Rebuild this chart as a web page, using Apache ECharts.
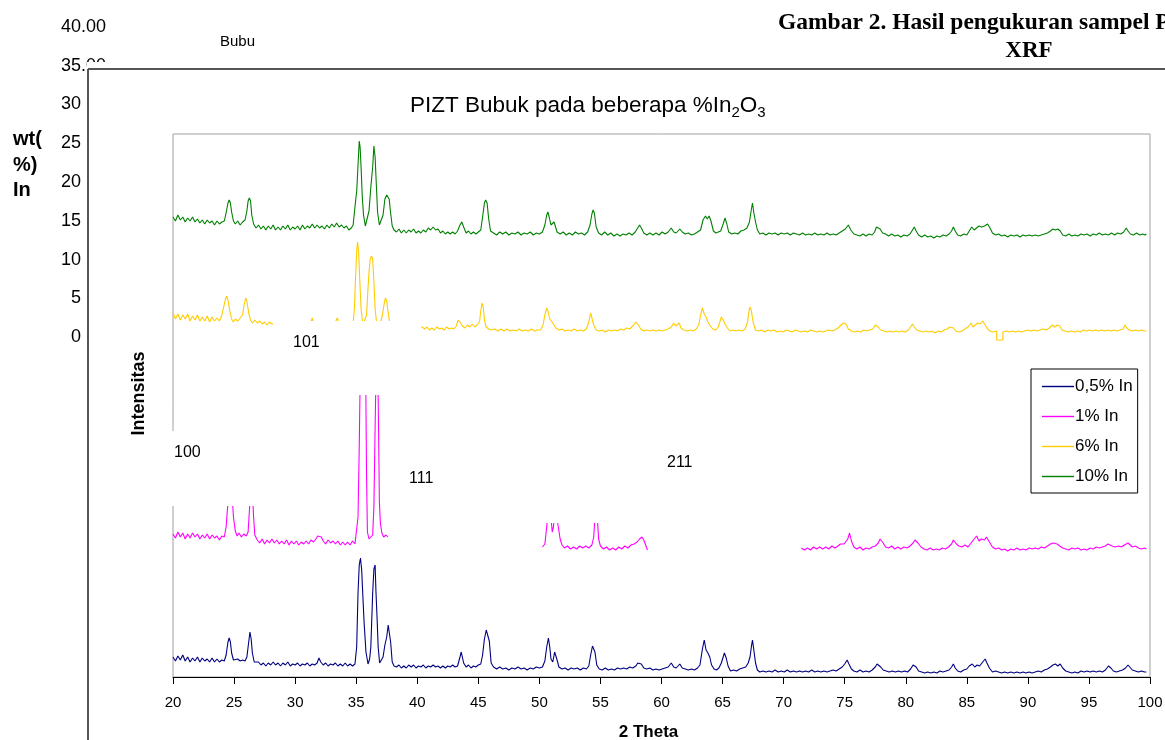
<!DOCTYPE html>
<html>
<head>
<meta charset="utf-8">
<script src="https://cdn.jsdelivr.net/npm/echarts@6/dist/echarts.min.js"></script>
<style>html,body{margin:0;padding:0;background:#fff}#c{width:1165px;height:740px}</style>
</head>
<body>
<div id="c"></div>
<script>
// ---- axis settings (2 Theta) ----
const X_MIN = 20, X_MAX = 100, X_STEP = 5;
const Y_MIN = 0, Y_MAX = 543;
const seriesNames = ['0,5% In', '1% In', '6% In', '10% In'];
const seriesColors = ['#000080', '#ff00ff', '#ffcc00', '#008000'];

// ---- series values, flat pairs [2theta, intensity] ----
const N05 = [20.0,20, 20.2,16, 20.4,21, 20.6,17, 20.8,22, 21.0,16, 21.2,20, 21.4,15, 21.6,19, 21.8,16, 22.0,20, 22.2,15, 22.4,19, 22.6,16, 22.8,18, 23.0,15, 23.2,19, 23.4,15, 23.6,18, 23.8,15, 24.0,17, 24.2,16, 24.35,22, 24.5,35, 24.6,39, 24.7,35, 24.8,24, 24.95,17, 25.1,15, 25.3,18, 25.5,16, 25.7,17, 25.9,16, 26.05,20, 26.15,30, 26.3,45, 26.4,38, 26.5,24, 26.65,15, 26.8,13, 27.0,15, 27.2,12, 27.4,14, 27.6,11, 27.8,14, 28.0,12, 28.2,15, 28.4,12, 28.6,14, 28.8,11, 29.0,14, 29.2,12, 29.4,15, 29.6,11, 29.8,13, 30.0,12, 30.2,14, 30.4,11, 30.6,13, 30.8,12, 31.0,14, 31.2,11, 31.4,13, 31.6,12, 31.8,14, 31.95,19, 32.1,15, 32.3,12, 32.5,14, 32.7,11, 32.9,13, 33.1,12, 33.3,14, 33.5,11, 33.7,13, 33.9,11, 34.1,14, 34.3,11, 34.5,13, 34.7,11, 34.9,13, 35.04,30, 35.15,84, 35.25,112, 35.35,119, 35.45,107, 35.55,80, 35.65,54, 35.8,25, 35.97,13, 36.1,18, 36.2,30, 36.35,84, 36.45,108, 36.55,112, 36.62,85, 36.7,62, 36.8,30, 36.92,14, 37.05,13, 37.2,20, 37.35,32, 37.5,40, 37.62,52, 37.72,50, 37.82,35, 37.95,15, 38.1,11, 38.3,10, 38.5,12, 38.7,9, 38.9,11, 39.1,9, 39.3,12, 39.5,10, 39.7,12, 39.9,9, 40.1,11, 40.3,10, 40.5,12, 40.7,9, 40.9,11, 41.1,10, 41.3,12, 41.5,10, 41.7,11, 41.9,9, 42.1,11, 42.3,9, 42.5,11, 42.7,10, 42.9,12, 43.1,10, 43.3,11, 43.5,20, 43.6,25, 43.7,23, 43.8,14, 44.0,10, 44.2,12, 44.4,9, 44.6,11, 44.8,10, 45.0,12, 45.2,13, 45.35,22, 45.5,38, 45.65,47, 45.77,49, 45.9,36, 46.05,14, 46.25,10, 46.5,8, 46.75,10, 47.0,8, 47.25,9, 47.5,7, 47.75,9, 48.0,8, 48.25,10, 48.5,8, 48.75,9, 49.0,7, 49.25,9, 49.5,8, 49.75,10, 50.0,9, 50.25,10, 50.45,16, 50.6,30, 50.74,39, 50.85,30, 50.95,18, 51.1,15, 51.25,25, 51.33,27, 51.45,17, 51.6,10, 51.85,8, 52.1,9, 52.35,7, 52.6,9, 52.85,8, 53.1,9, 53.35,7, 53.6,9, 53.85,8, 54.05,11, 54.2,22, 54.35,31, 54.45,33, 54.55,25, 54.7,12, 54.9,8, 55.15,7, 55.4,9, 55.65,7, 55.9,8, 56.15,7, 56.4,9, 56.65,8, 56.9,9, 57.15,8, 57.4,10, 57.65,9, 57.9,11, 58.05,14, 58.2,16, 58.35,13, 58.55,9, 58.8,8, 59.05,9, 59.3,7, 59.55,8, 59.8,7, 60.05,8, 60.3,9, 60.55,10, 60.8,14, 61.0,10, 61.2,9, 61.5,13, 61.7,9, 61.95,8, 62.2,7, 62.45,8, 62.7,7, 62.95,9, 63.15,12, 63.35,28, 63.5,37, 63.65,27, 63.8,24, 63.95,20, 64.1,12, 64.3,8, 64.5,7, 64.7,9, 64.9,14, 65.05,20, 65.15,24, 65.3,19, 65.45,11, 65.65,6, 65.9,7, 66.15,6, 66.4,8, 66.65,9, 66.9,10, 67.1,14, 67.25,20, 67.38,32, 67.45,37, 67.55,28, 67.7,14, 67.85,7, 68.05,5, 68.3,6, 68.55,5, 68.8,6, 69.05,5, 69.3,7, 69.55,5, 69.8,6, 70.05,5, 70.3,7, 70.55,5, 70.8,6, 71.05,5, 71.3,6, 71.55,5, 71.8,6, 72.05,5, 72.3,7, 72.55,5, 72.8,6, 73.05,5, 73.3,6, 73.55,5, 73.8,6, 74.05,7, 74.3,6, 74.55,8, 74.8,10, 75.0,13, 75.2,17, 75.35,13, 75.55,8, 75.75,6, 76.0,5, 76.25,7, 76.5,5, 76.75,6, 77.0,5, 77.25,7, 77.5,10, 77.65,13, 77.75,14, 77.95,10, 78.15,7, 78.4,6, 78.65,5, 78.9,6, 79.15,5, 79.4,6, 79.65,5, 79.9,6, 80.15,5, 80.4,8, 80.6,12, 80.7,13, 80.85,10, 81.05,6, 81.3,5, 81.55,4, 81.8,5, 82.05,4, 82.3,5, 82.55,4, 82.8,6, 83.05,5, 83.3,6, 83.55,7, 83.75,10, 83.9,13, 84.05,9, 84.25,6, 84.5,5, 84.75,7, 85.0,8, 85.2,11, 85.45,13, 85.65,10, 85.85,12, 86.05,11, 86.3,15, 86.5,18, 86.65,14, 86.85,9, 87.1,5, 87.35,6, 87.6,5, 87.85,4, 88.1,5, 88.35,4, 88.6,5, 88.85,4, 89.1,5, 89.35,4, 89.6,5, 89.85,4, 90.1,5, 90.35,4, 90.6,5, 90.85,6, 91.1,5, 91.35,7, 91.6,8, 91.85,10, 92.05,12, 92.25,13, 92.45,11, 92.65,13, 92.85,9, 93.1,6, 93.35,5, 93.6,4, 93.85,5, 94.1,4, 94.35,6, 94.6,5, 94.85,6, 95.1,5, 95.35,6, 95.6,5, 95.85,6, 96.1,5, 96.35,7, 96.6,11, 96.8,9, 97.0,6, 97.25,5, 97.5,6, 97.75,7, 98.0,9, 98.2,12, 98.35,10, 98.55,7, 98.8,6, 99.05,5, 99.3,6, 99.55,5, 99.7,5];

const M1 = [20.0,143, 20.2,139, 20.4,145, 20.6,140, 20.8,144, 21.0,138, 21.2,143, 21.4,139, 21.6,144, 21.8,140, 22.0,143, 22.2,138, 22.4,142, 22.6,139, 22.8,143, 23.0,138, 23.2,142, 23.4,139, 23.6,141, 23.8,137, 24.0,141, 24.2,140, 24.35,150, 24.5,175, 24.6,190, 24.75,192, 24.85,180, 24.95,160, 25.1,146, 25.25,141, 25.4,144, 25.6,140, 25.8,143, 26.0,141, 26.15,145, 26.3,175, 26.4,195, 26.5,185, 26.6,160, 26.7,142, 26.9,137, 27.1,134, 27.3,138, 27.5,133, 27.7,137, 27.9,134, 28.1,138, 28.3,134, 28.5,137, 28.7,133, 28.9,136, 29.1,133, 29.3,137, 29.5,132, 29.7,136, 29.9,133, 30.1,136, 30.3,132, 30.5,135, 30.7,133, 30.9,136, 31.1,133, 31.3,137, 31.5,135, 31.7,138, 31.85,141, 32.0,143, 32.15,140, 32.3,136, 32.5,133, 32.7,137, 32.9,134, 33.1,136, 33.3,133, 33.5,136, 33.7,132, 33.9,135, 34.1,132, 34.3,135, 34.5,132, 34.7,136, 34.9,133, 35.05,135, 35.15,160, 35.25,230, 35.35,320, 35.5,335, 35.65,330, 35.78,300, 35.85,200, 35.92,145, 36.05,138, 36.2,140, 36.35,142, 36.45,170, 36.55,250, 36.65,322, 36.75,325, 36.82,260, 36.9,175, 36.98,154, 37.1,144, 37.25,140, 37.45,142, 37.6,140, 44.0,null, 50.25,130, 50.45,133, 50.6,150, 50.75,172, 50.85,175, 50.95,160, 51.05,145, 51.15,150, 51.3,170, 51.45,168, 51.55,150, 51.7,138, 51.85,132, 52.05,129, 52.3,131, 52.55,128, 52.8,130, 53.05,128, 53.3,131, 53.55,129, 53.8,131, 54.05,129, 54.3,132, 54.45,140, 54.55,160, 54.65,168, 54.75,158, 54.85,138, 55.0,131, 55.25,128, 55.5,130, 55.75,127, 56.0,129, 56.25,127, 56.5,130, 56.75,128, 57.0,131, 57.25,129, 57.5,132, 57.75,133, 58.0,135, 58.2,138, 58.4,140, 58.55,137, 58.7,132, 58.85,127, 65.0,null, 71.45,129, 71.7,127, 71.95,129, 72.2,127, 72.45,130, 72.7,128, 72.95,130, 73.2,128, 73.45,130, 73.7,128, 73.95,131, 74.2,129, 74.45,131, 74.65,133, 74.8,135, 74.95,133, 75.1,134, 75.25,138, 75.4,144, 75.55,136, 75.75,130, 76.0,128, 76.25,130, 76.5,127, 76.75,129, 77.0,128, 77.25,130, 77.5,131, 77.75,134, 77.9,138, 78.0,140, 78.15,134, 78.35,130, 78.6,129, 78.85,131, 79.1,128, 79.35,130, 79.6,128, 79.85,130, 80.1,129, 80.35,131, 80.6,134, 80.75,137, 80.85,139, 81.0,134, 81.25,130, 81.5,128, 81.75,127, 82.0,129, 82.25,127, 82.5,128, 82.75,127, 83.0,129, 83.25,128, 83.5,130, 83.75,133, 83.9,137, 84.0,139, 84.15,133, 84.35,131, 84.6,130, 84.85,132, 85.1,130, 85.35,134, 85.6,138, 85.8,141, 86.0,136, 86.2,138, 86.45,137, 86.6,140, 86.75,140, 86.9,134, 87.1,130, 87.35,128, 87.6,129, 87.85,127, 88.1,128, 88.35,126, 88.6,128, 88.85,127, 89.1,129, 89.35,127, 89.6,128, 89.85,127, 90.1,129, 90.35,128, 90.6,129, 90.85,128, 91.1,130, 91.35,129, 91.6,131, 91.85,133, 92.05,134, 92.2,135, 92.4,133, 92.6,131, 92.85,129, 93.1,128, 93.35,127, 93.6,129, 93.85,128, 94.1,129, 94.35,127, 94.6,128, 94.85,127, 95.1,129, 95.35,128, 95.6,130, 95.85,129, 96.1,130, 96.35,131, 96.55,133, 96.7,134, 96.9,131, 97.15,130, 97.4,131, 97.65,130, 97.9,132, 98.05,133, 98.2,134, 98.35,132, 98.55,130, 98.8,131, 99.05,129, 99.3,128, 99.55,129, 99.7,128];

const Y6 = [20.0,364, 20.2,358, 20.4,363, 20.6,357, 20.8,362, 21.0,358, 21.2,363, 21.4,356, 21.6,361, 21.8,357, 22.0,362, 22.2,356, 22.4,360, 22.6,356, 22.8,361, 23.0,355, 23.2,360, 23.4,356, 23.6,359, 23.8,356, 24.0,362, 24.15,370, 24.3,378, 24.4,381, 24.5,377, 24.65,366, 24.8,358, 24.95,355, 25.1,358, 25.3,356, 25.5,359, 25.7,362, 25.82,372, 25.95,379, 26.05,376, 26.2,364, 26.35,357, 26.5,354, 26.7,357, 26.9,354, 27.1,356, 27.3,353, 27.5,355, 27.7,352, 27.9,355, 28.1,353, 28.3,354, 28.5,351, 28.7,354, 28.9,351, 29.1,353, 29.3,350, 29.5,353, 29.7,351, 29.9,354, 30.1,351, 30.3,353, 30.5,350, 30.7,354, 30.9,351, 31.1,353, 31.3,355, 31.4,359, 31.5,354, 31.7,351, 31.9,353, 32.1,350, 32.3,353, 32.5,351, 32.7,354, 32.9,351, 33.1,353, 33.3,355, 33.45,359, 33.6,354, 33.8,351, 34.0,353, 34.2,350, 34.4,352, 34.6,351, 34.75,354, 34.85,368, 34.95,400, 35.05,428, 35.12,435, 35.2,425, 35.3,395, 35.4,368, 35.55,352, 35.7,351, 35.85,362, 35.95,385, 36.05,405, 36.15,418, 36.25,421, 36.35,418, 36.45,395, 36.55,368, 36.7,351, 36.9,350, 37.05,352, 37.15,362, 37.3,374, 37.4,379, 37.5,376, 37.6,366, 37.75,354, 37.95,350, 38.2,349, 38.5,351, 38.8,348, 39.1,350, 39.4,348, 39.7,351, 40.0,348, 40.2,350, 40.4,350, 40.6,348, 40.8,350, 41.0,347, 41.2,349, 41.4,347, 41.6,350, 41.8,348, 42.0,349, 42.2,347, 42.4,350, 42.6,348, 42.8,349, 43.0,348, 43.2,351, 43.35,357, 43.45,359, 43.55,354, 43.7,351, 43.9,349, 44.1,352, 44.3,350, 44.5,353, 44.7,350, 44.9,352, 45.1,355, 45.2,366, 45.3,374, 45.4,370, 45.5,357, 45.65,350, 45.85,348, 46.1,347, 46.35,348, 46.6,346, 46.85,348, 47.1,346, 47.35,348, 47.6,346, 47.85,347, 48.1,346, 48.35,348, 48.6,346, 48.85,347, 49.1,346, 49.35,348, 49.6,346, 49.85,347, 50.1,347, 50.3,352, 50.45,362, 50.6,369, 50.7,366, 50.85,358, 51.0,357, 51.15,353, 51.35,349, 51.6,347, 51.85,348, 52.1,346, 52.35,347, 52.6,346, 52.85,348, 53.1,346, 53.35,347, 53.6,346, 53.85,348, 54.05,355, 54.2,364, 54.3,362, 54.45,352, 54.65,347, 54.9,346, 55.15,347, 55.4,345, 55.65,347, 55.9,346, 56.15,347, 56.4,346, 56.65,348, 56.9,347, 57.15,349, 57.4,348, 57.65,351, 57.9,355, 58.1,352, 58.3,348, 58.55,346, 58.8,347, 59.05,346, 59.3,347, 59.55,346, 59.8,347, 60.05,346, 60.3,347, 60.55,348, 60.8,350, 61.0,354, 61.15,351, 61.3,353, 61.45,354, 61.6,349, 61.85,347, 62.1,346, 62.35,347, 62.6,346, 62.85,348, 63.05,352, 63.2,362, 63.35,369, 63.5,363, 63.65,360, 63.8,355, 64.0,351, 64.2,348, 64.45,347, 64.65,350, 64.8,356, 64.9,360, 65.05,357, 65.2,353, 65.4,349, 65.6,346, 65.85,347, 66.1,346, 66.35,347, 66.6,346, 66.85,348, 67.05,355, 67.15,365, 67.25,370, 67.35,367, 67.5,355, 67.7,347, 67.95,346, 68.2,347, 68.45,345, 68.7,347, 68.95,346, 69.2,347, 69.45,345, 69.7,346, 69.95,345, 70.2,347, 70.45,346, 70.7,345, 70.95,347, 71.2,346, 71.45,345, 71.7,346, 71.95,345, 72.2,347, 72.45,346, 72.7,345, 72.95,346, 73.2,345, 73.45,346, 73.7,347, 73.95,346, 74.2,347, 74.45,349, 74.7,352, 74.9,354, 75.1,353, 75.3,348, 75.55,346, 75.8,345, 76.05,346, 76.3,345, 76.55,347, 76.8,346, 77.05,347, 77.3,348, 77.5,352, 77.6,354, 77.75,350, 77.95,347, 78.2,346, 78.45,345, 78.7,346, 78.95,345, 79.2,346, 79.45,345, 79.7,346, 79.95,345, 80.2,347, 80.4,350, 80.55,353, 80.7,350, 80.9,347, 81.15,346, 81.4,345, 81.65,346, 81.9,345, 82.15,346, 82.4,344, 82.65,346, 82.9,345, 83.15,347, 83.4,348, 83.6,350, 83.75,352, 83.9,349, 84.1,346, 84.35,345, 84.6,346, 84.85,348, 85.1,350, 85.35,354, 85.5,350, 85.7,352, 85.9,354, 86.1,353, 86.3,356, 86.5,352, 86.7,348, 86.9,346, 87.1,345, 87.44,346, 87.45,337, 87.7,337, 87.95,337, 87.96,345, 88.25,346, 88.5,345, 88.75,346, 89.0,345, 89.25,346, 89.5,345, 89.75,346, 90.0,347, 90.25,346, 90.5,347, 90.75,346, 91.0,347, 91.25,348, 91.5,347, 91.75,349, 92.0,352, 92.2,350, 92.4,352, 92.6,351, 92.8,347, 93.05,346, 93.3,345, 93.55,346, 93.8,345, 94.05,346, 94.3,345, 94.55,347, 94.8,346, 95.05,347, 95.3,346, 95.55,347, 95.8,346, 96.05,347, 96.3,346, 96.55,347, 96.8,346, 97.05,347, 97.3,346, 97.55,347, 97.8,348, 97.95,352, 98.1,349, 98.3,347, 98.55,346, 98.8,347, 99.05,346, 99.3,347, 99.55,346, 99.7,346];

const G10 = [20.0,460, 20.2,456, 20.4,462, 20.6,457, 20.8,460, 21.0,455, 21.2,459, 21.4,456, 21.6,460, 21.8,455, 22.0,458, 22.2,454, 22.4,457, 22.6,453, 22.8,457, 23.0,454, 23.2,456, 23.4,452, 23.6,456, 23.8,453, 24.0,455, 24.2,456, 24.35,464, 24.5,474, 24.6,477, 24.7,474, 24.8,465, 24.95,456, 25.1,453, 25.3,456, 25.5,452, 25.7,455, 25.9,457, 26.05,466, 26.15,476, 26.25,479, 26.35,476, 26.45,462, 26.6,453, 26.8,449, 27.0,452, 27.2,448, 27.4,451, 27.6,447, 27.8,451, 28.0,448, 28.2,452, 28.4,447, 28.6,450, 28.8,447, 29.0,451, 29.2,448, 29.4,452, 29.6,447, 29.8,450, 30.0,448, 30.2,451, 30.4,447, 30.6,452, 30.8,448, 31.0,451, 31.2,449, 31.4,453, 31.6,449, 31.8,452, 32.0,449, 32.2,451, 32.4,448, 32.6,452, 32.8,449, 33.0,453, 33.2,450, 33.4,454, 33.6,450, 33.8,452, 34.0,449, 34.2,451, 34.4,447, 34.6,449, 34.75,452, 34.9,470, 35.05,487, 35.15,512, 35.25,536, 35.32,530, 35.4,510, 35.5,480, 35.6,462, 35.75,451, 35.9,453, 36.05,466, 36.2,490, 36.35,510, 36.45,531, 36.55,520, 36.65,492, 36.75,465, 36.9,452, 37.05,451, 37.2,462, 37.35,478, 37.5,482, 37.6,484, 37.7,478, 37.8,466, 37.95,451, 38.1,447, 38.3,445, 38.5,448, 38.7,444, 38.9,447, 39.1,444, 39.3,447, 39.5,445, 39.7,448, 39.9,444, 40.1,446, 40.3,444, 40.5,447, 40.7,445, 40.9,449, 41.1,447, 41.3,450, 41.5,447, 41.7,448, 41.9,444, 42.1,446, 42.3,443, 42.5,445, 42.7,443, 42.9,445, 43.1,443, 43.3,446, 43.5,452, 43.65,455, 43.8,450, 44.0,444, 44.2,446, 44.4,443, 44.6,445, 44.8,443, 45.0,445, 45.2,447, 45.35,460, 45.5,474, 45.6,477, 45.72,474, 45.85,458, 46.0,446, 46.25,444, 46.5,442, 46.75,445, 47.0,443, 47.25,445, 47.5,442, 47.75,444, 48.0,443, 48.25,445, 48.5,442, 48.75,444, 49.0,443, 49.25,445, 49.5,442, 49.75,444, 50.0,443, 50.25,445, 50.45,452, 50.6,462, 50.7,465, 50.8,460, 50.95,452, 51.1,453, 51.2,455, 51.3,451, 51.45,445, 51.7,443, 51.95,445, 52.2,442, 52.45,444, 52.7,442, 52.95,445, 53.2,443, 53.45,444, 53.7,442, 53.95,445, 54.15,452, 54.3,463, 54.4,467, 54.5,464, 54.65,450, 54.85,444, 55.1,442, 55.35,445, 55.6,442, 55.85,444, 56.1,441, 56.35,443, 56.6,441, 56.85,443, 57.1,442, 57.35,444, 57.6,442, 57.85,445, 58.05,449, 58.2,452, 58.35,449, 58.55,444, 58.8,442, 59.05,444, 59.3,442, 59.55,444, 59.8,442, 60.05,445, 60.3,443, 60.55,445, 60.8,449, 61.0,445, 61.2,444, 61.5,448, 61.7,445, 61.95,443, 62.2,444, 62.45,442, 62.7,443, 62.95,445, 63.2,447, 63.4,457, 63.6,461, 63.75,458, 63.9,461, 64.05,456, 64.25,446, 64.45,444, 64.65,445, 64.85,446, 65.05,453, 65.2,459, 65.35,453, 65.5,445, 65.75,443, 66.0,444, 66.25,443, 66.5,446, 66.75,447, 67.0,449, 67.2,455, 67.35,467, 67.45,474, 67.55,465, 67.7,455, 67.85,447, 68.05,443, 68.3,444, 68.55,442, 68.8,444, 69.05,443, 69.3,444, 69.55,442, 69.8,444, 70.05,443, 70.3,444, 70.55,442, 70.8,444, 71.05,443, 71.3,442, 71.55,444, 71.8,442, 72.05,443, 72.3,442, 72.55,444, 72.8,442, 73.05,443, 73.3,442, 73.55,444, 73.8,442, 74.05,443, 74.3,442, 74.55,444, 74.8,446, 75.05,448, 75.3,452, 75.5,447, 75.75,443, 76.0,442, 76.25,441, 76.5,443, 76.75,441, 77.0,443, 77.25,442, 77.45,445, 77.6,450, 77.75,452, 77.9,448, 78.1,444, 78.35,443, 78.6,441, 78.85,443, 79.1,441, 79.35,442, 79.6,440, 79.85,442, 80.1,441, 80.35,443, 80.55,447, 80.7,450, 80.85,446, 81.05,442, 81.3,440, 81.55,442, 81.8,440, 82.05,441, 82.3,439, 82.55,441, 82.8,440, 83.05,442, 83.3,441, 83.55,443, 83.75,446, 83.9,450, 84.05,446, 84.25,442, 84.5,441, 84.75,443, 85.0,442, 85.2,446, 85.4,450, 85.6,447, 85.8,449, 86.0,451, 86.2,450, 86.45,451, 86.7,453, 86.9,449, 87.1,444, 87.35,442, 87.6,443, 87.85,441, 88.1,442, 88.35,440, 88.6,442, 88.85,441, 89.1,442, 89.35,440, 89.6,442, 89.85,441, 90.1,442, 90.35,441, 90.6,442, 90.85,441, 91.1,442, 91.35,443, 91.6,444, 91.85,446, 92.05,448, 92.25,447, 92.45,448, 92.65,446, 92.85,442, 93.1,441, 93.35,443, 93.6,441, 93.85,442, 94.1,441, 94.35,443, 94.6,442, 94.85,443, 95.1,441, 95.35,443, 95.6,442, 95.85,444, 96.1,442, 96.35,443, 96.6,442, 96.85,444, 97.1,442, 97.35,444, 97.6,443, 97.85,445, 98.05,449, 98.2,446, 98.4,443, 98.65,442, 98.9,444, 99.15,442, 99.4,443, 99.6,442, 99.7,443];

// remnant tick labels of the background chart
const bgTickLabels = ['30', '25', '20', '15', '10', '5', '0'];
const bgTickY = [104, 143, 182, 221, 260, 298, 337];
// peak annotations (hkl)
const peakLabels = ['100', '101', '111', '211'];

function toPairs(flat) {
  const out = [];
  for (let i = 0; i < flat.length; i += 2) out.push([flat[i], flat[i + 1]]);
  return out;
}

const FONT = '"Liberation Sans", Arial, sans-serif';
const SERIF = '"Liberation Serif", "Times New Roman", serif';
const chart = echarts.init(document.getElementById('c'), null, { renderer: 'canvas' });

const allData = [N05, M1, Y6, G10];
const series = allData.map((d, i) => ({
  name: seriesNames[i],
  type: 'line',
  data: toPairs(d),
  symbol: 'none',
  showSymbol: false,
  connectNulls: false,
  animation: false,
  lineStyle: { color: seriesColors[i], width: 1.1 },
  itemStyle: { color: seriesColors[i] },
  z: 2 + i * 0.1
}));

const graphics = [];
// background (earlier chart) remnants
graphics.push({ type: 'text', x: 61, y: 27, z: 1, style: { text: '40.00', fontSize: 18, fontFamily: FONT, fill: '#000', align: 'left', verticalAlign: 'middle' } });
graphics.push({ type: 'text', x: 61, y: 66, z: 1, style: { text: '35.00', fontSize: 18, fontFamily: FONT, fill: '#000', align: 'left', verticalAlign: 'middle' } });
bgTickLabels.forEach((t, i) => {
  graphics.push({ type: 'text', x: 81, y: bgTickY[i], z: 1, style: { text: t, fontSize: 18, fontFamily: FONT, fill: '#000', align: 'right', verticalAlign: 'middle' } });
});
graphics.push({ type: 'rect', shape: { x: 87, y: 62, width: 30, height: 14 }, z: 5, style: { fill: '#fff' } });
graphics.push({ type: 'line', shape: { x1: 88, y1: 69, x2: 1165, y2: 69 }, z: 6, style: { stroke: '#555', lineWidth: 2 } });
graphics.push({ type: 'line', shape: { x1: 88, y1: 69, x2: 88, y2: 740 }, z: 6, style: { stroke: '#555', lineWidth: 2 } });
graphics.push({ type: 'text', x: 13, y: 139, z: 1, style: { text: 'wt(', fontSize: 20, fontWeight: 'bold', fontFamily: FONT, fill: '#000', verticalAlign: 'middle' } });
graphics.push({ type: 'text', x: 13, y: 165, z: 1, style: { text: '%)', fontSize: 20, fontWeight: 'bold', fontFamily: FONT, fill: '#000', verticalAlign: 'middle' } });
graphics.push({ type: 'text', x: 13, y: 190, z: 1, style: { text: 'In', fontSize: 20, fontWeight: 'bold', fontFamily: FONT, fill: '#000', verticalAlign: 'middle' } });
graphics.push({ type: 'text', x: 220, y: 42, z: 1, style: { text: 'Bubu', fontSize: 15, fontFamily: FONT, fill: '#000', verticalAlign: 'middle' } });
graphics.push({ type: 'text', x: 778, y: 23, z: 1, style: { text: 'Gambar 2. Hasil pengukuran sampel P', fontSize: 23.5, fontWeight: 'bold', fontFamily: SERIF, fill: '#000', verticalAlign: 'middle' } });
graphics.push({ type: 'text', x: 1029, y: 51, z: 1, style: { text: 'XRF', fontSize: 23, fontWeight: 'bold', fontFamily: SERIF, fill: '#000', align: 'center', verticalAlign: 'middle' } });
// white label boxes hiding parts of the traces
[[163, 431, 112, 75], [273, 321, 148, 74], [542, 440, 106, 83]].forEach(r => {
  graphics.push({ type: 'rect', shape: { x: r[0], y: r[1], width: r[2], height: r[3] }, z: 100, style: { fill: '#fff' } });
});
const peakPos = [[174, 453], [293, 343], [409, 479], [667, 463]];
peakLabels.forEach((t, i) => {
  graphics.push({ type: 'text', x: peakPos[i][0], y: peakPos[i][1], z: 101, style: { text: t, fontSize: 16, fontFamily: FONT, fill: '#000', verticalAlign: 'middle' } });
});

const option = {
  backgroundColor: '#fff',
  animation: false,
  title: {
    text: '{a|PIZT Bubuk pada beberapa %In}{b|2}{a|O}{b|3}',
    left: 405, top: 89,
    textStyle: {
      rich: {
        a: { fontSize: 22.5, fontWeight: 'normal', fontFamily: FONT, color: '#000', lineHeight: 26, verticalAlign: 'top' },
        b: { fontSize: 15, fontWeight: 'normal', fontFamily: FONT, color: '#000', lineHeight: 13, verticalAlign: 'bottom' }
      }
    }
  },
  grid: { left: 173, right: 15, top: 134, bottom: 63, show: true, borderColor: '#a0a0a0', borderWidth: 1, backgroundColor: 'transparent', outerBoundsMode: 'none', containLabel: false },
  legend: {
    orient: 'vertical', left: 1031, top: 369,
    padding: [9, 5, 8, 11], itemGap: 13, itemWidth: 32, itemHeight: 14,
    borderColor: '#000', borderWidth: 1, backgroundColor: '#fff',
    textStyle: { fontSize: 17, fontFamily: FONT, color: '#000', padding: [0, 0, 0, -4] },
    data: seriesNames.map(n => ({ name: n, icon: 'path://M0,0H32V1.4H0Z' }))
  },
  xAxis: {
    type: 'value', min: X_MIN, max: X_MAX, interval: X_STEP,
    name: '2 Theta', nameLocation: 'middle', nameGap: 47,
    nameTextStyle: { fontSize: 17, fontWeight: 'bold', fontFamily: FONT, color: '#000', padding: [0, 26, 0, 0] },
    axisLine: { lineStyle: { color: '#000', width: 1 } },
    axisTick: { length: 7, lineStyle: { color: '#000' } },
    axisLabel: { fontSize: 15, fontFamily: FONT, color: '#000', margin: 18 },
    splitLine: { show: false }
  },
  yAxis: {
    type: 'value', min: Y_MIN, max: Y_MAX,
    name: 'Intensitas', nameLocation: 'middle', nameGap: 25,
    nameTextStyle: { fontSize: 18, fontWeight: 'bold', fontFamily: FONT, color: '#000', padding: [0, 0, 0, 24] },
    axisLine: { show: false }, axisTick: { show: false }, axisLabel: { show: false }, splitLine: { show: false }
  },
  series: series,
  graphic: { elements: graphics }
};
chart.setOption(option);
</script>
</body>
</html>
